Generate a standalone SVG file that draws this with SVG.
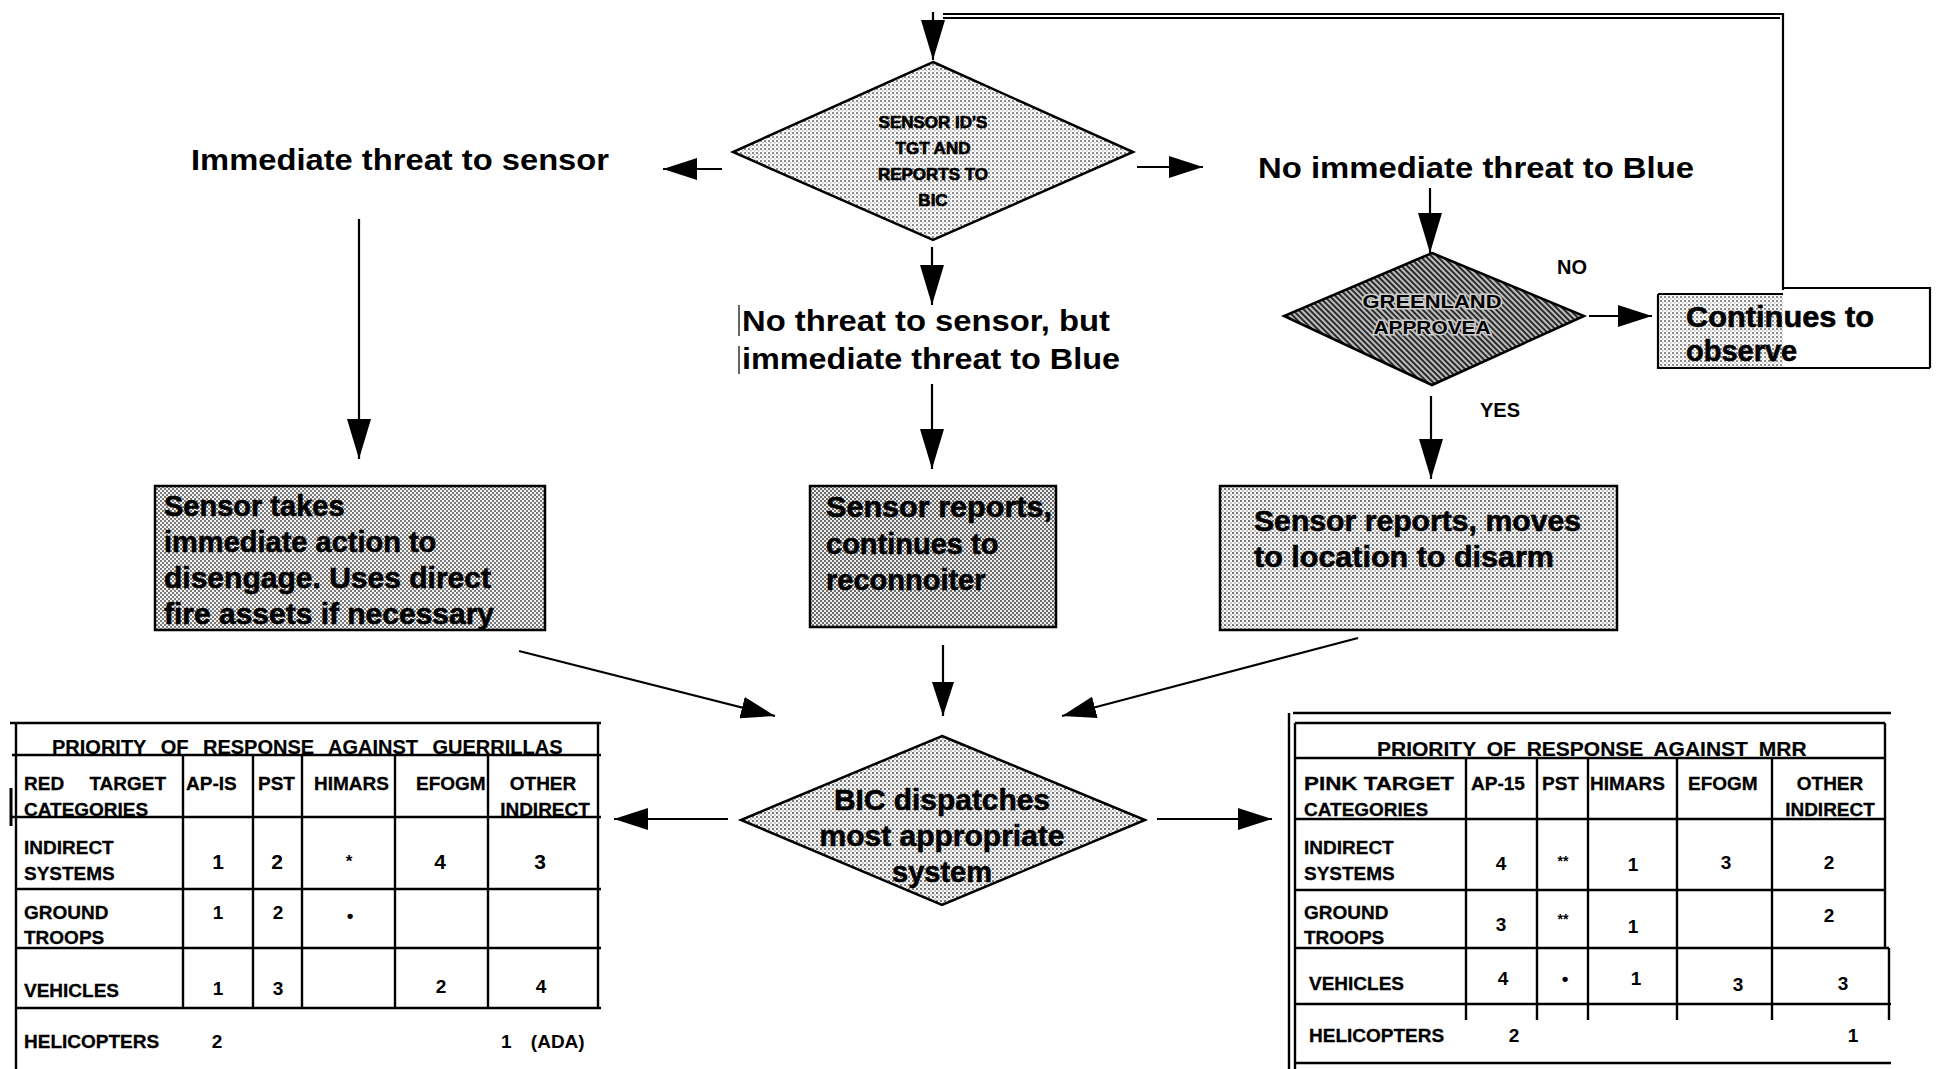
<svg xmlns="http://www.w3.org/2000/svg" width="1936" height="1069" viewBox="0 0 1936 1069">
<defs>
<style>
.t{font-family:"Liberation Sans",Arial,sans-serif;font-weight:bold;fill:#000}
.lbl{font-size:30px}
.box{font-size:29px;stroke:#000;stroke-width:0.6}
.sm{font-size:17px;stroke:#000;stroke-width:0.7}
.tb{font-size:19px;stroke:#000;stroke-width:0.3}
.ttl{stroke:#000;stroke-width:0.2}
.num{font-size:19px}
.conn{stroke:#000;stroke-width:2.2;fill:none}
.grid{stroke:#000;stroke-width:2.4;fill:none}
.shape{stroke:#000;stroke-width:2.5}
</style>
<pattern id="chk" width="4" height="4" patternUnits="userSpaceOnUse"><rect width="4" height="4" fill="#f4f4f4"/><rect width="2" height="2" fill="#7a7a7a"/><rect x="2" y="2" width="2" height="2" fill="#7a7a7a"/></pattern>
<pattern id="chk2" width="4" height="4" patternUnits="userSpaceOnUse"><rect width="4" height="4" fill="#eee"/><rect width="2" height="2" fill="#6a6a6a"/><rect x="2" y="2" width="2" height="2" fill="#6a6a6a"/></pattern>
<pattern id="dots" width="4" height="4" patternUnits="userSpaceOnUse"><rect width="4" height="4" fill="#fafafa"/><rect width="2" height="2" fill="#777"/><rect x="2" y="2" width="2" height="2" fill="#c8c8c8"/></pattern>
<pattern id="lite" width="4" height="4" patternUnits="userSpaceOnUse"><rect width="4" height="4" fill="#fff"/><rect width="2" height="2" fill="#8a8a8a"/><rect x="2" y="2" width="1.5" height="1.5" fill="#bbb"/></pattern>
<pattern id="hatch" width="4" height="4" patternUnits="userSpaceOnUse" patternTransform="rotate(45)"><rect width="4" height="4" fill="#bdbdbd"/><rect width="4" height="2" fill="#2a2a2a"/></pattern>
<marker id="ah" viewBox="0 0 34 22" refX="34" refY="11" markerWidth="34" markerHeight="22" markerUnits="userSpaceOnUse" orient="auto"><path d="M0,0 L34,11 L0,22 z" fill="#000"/></marker>
<marker id="ahv" viewBox="0 0 40 24" refX="40" refY="12" markerWidth="40" markerHeight="24" markerUnits="userSpaceOnUse" orient="auto"><path d="M0,0 L40,12 L0,24 z" fill="#000"/></marker>
</defs>
<rect width="1936" height="1069" fill="#fff"/>

<g id="connectors">
<path class="conn" d="M1783,290 V14 H943" stroke-width="3"/>
<path class="conn" d="M943,18 H1780" stroke-width="1"/>
<path class="conn" d="M933,12 V60" marker-end="url(#ahv)"/>
<path class="conn" d="M722,169 H663" marker-end="url(#ah)"/>
<path class="conn" d="M1137,167 H1203" marker-end="url(#ah)"/>
<path class="conn" d="M932,247 V305" marker-end="url(#ahv)"/>
<path class="conn" d="M359,219 V459" marker-end="url(#ahv)"/>
<path class="conn" d="M932,384 V469" marker-end="url(#ahv)"/>
<path class="conn" d="M1430,188 V253" marker-end="url(#ahv)"/>
<path class="conn" d="M1589,316 H1652" marker-end="url(#ah)"/>
<path class="conn" d="M1431,396 V479" marker-end="url(#ahv)"/>
<path class="conn" d="M519,651 L775,716" marker-end="url(#ah)"/>
<path class="conn" d="M943,645 V716" marker-end="url(#ah)"/>
<path class="conn" d="M1358,638 L1062,716" marker-end="url(#ah)"/>
<path class="conn" d="M728,819 H614" marker-end="url(#ah)"/>
<path class="conn" d="M1157,819 H1272" marker-end="url(#ah)"/>
</g>

<g id="sensor-ids-tgt">
<polygon class="shape" points="933,62 1133,152 933,240 733,152" fill="url(#lite)"/>
<text class="t sm" x="933" y="128" text-anchor="middle">SENSOR ID'S</text>
<text class="t sm" x="933" y="154" text-anchor="middle">TGT AND</text>
<text class="t sm" x="933" y="180" text-anchor="middle">REPORTS TO</text>
<text class="t sm" x="933" y="206" text-anchor="middle">BIC</text>
</g>

<g id="label-immediate-threat-sensor">
<text class="t lbl" x="400" y="170" text-anchor="middle" textLength="418" lengthAdjust="spacingAndGlyphs">Immediate threat to sensor</text>
</g>

<g id="label-no-immediate-threat-blue">
<text class="t lbl" x="1476" y="178" text-anchor="middle" textLength="436" lengthAdjust="spacingAndGlyphs">No immediate threat to Blue</text>
</g>

<g id="label-no-threat-sensor">
<line x1="739" y1="305" x2="739" y2="336" stroke="#000" stroke-width="1.2"/>
<line x1="739" y1="346" x2="739" y2="374" stroke="#000" stroke-width="1.2"/>
<text class="t lbl" x="742" y="331" textLength="368" lengthAdjust="spacingAndGlyphs">No threat to sensor, but</text>
<text class="t lbl" x="742" y="369" textLength="378" lengthAdjust="spacingAndGlyphs">immediate threat to Blue</text>
</g>

<g id="greenland-approve">
<polygon class="shape" points="1432,253 1584,316 1432,385 1284,316" fill="url(#hatch)"/>
<text class="t" font-size="18" x="1432" y="308" text-anchor="middle" stroke="#ccc" stroke-width="3" paint-order="stroke" textLength="139" lengthAdjust="spacingAndGlyphs">GREENLAND</text>
<text class="t" font-size="18" x="1432" y="334" text-anchor="middle" stroke="#ccc" stroke-width="3" paint-order="stroke" textLength="117" lengthAdjust="spacingAndGlyphs">APPROVEA</text>
</g>

<g id="label-no"><text class="t" font-size="20" x="1572" y="274" text-anchor="middle">NO</text></g>
<g id="label-yes"><text class="t" font-size="20" x="1500" y="417" text-anchor="middle">YES</text></g>

<g id="continues-to-observe">
<rect x="1658" y="294" width="125" height="74" fill="url(#lite)"/>
<path d="M1658,294 H1783 M1783,288 H1930 V368 M1658,294 V368 H1930" stroke="#000" stroke-width="2.2" fill="none"/>
<text class="t box" x="1686" y="327" textLength="188" lengthAdjust="spacingAndGlyphs">Continues to</text>
<text class="t box" x="1686" y="361">observe</text>
</g>

<g id="sensor-disengage">
<rect class="shape" x="155" y="486" width="390" height="144" fill="url(#chk)"/>
<text class="t box" x="164" y="516">Sensor takes</text>
<text class="t box" x="164" y="552">immediate action to</text>
<text class="t box" x="164" y="588" textLength="327" lengthAdjust="spacingAndGlyphs">disengage. Uses direct</text>
<text class="t box" x="164" y="624" textLength="330" lengthAdjust="spacingAndGlyphs">fire assets if necessary</text>
</g>

<g id="sensor-reconnoiter">
<rect class="shape" x="810" y="486" width="246" height="141" fill="url(#chk2)"/>
<text class="t box" x="826" y="517" textLength="226" lengthAdjust="spacingAndGlyphs">Sensor reports,</text>
<text class="t box" x="826" y="554">continues to</text>
<text class="t box" x="826" y="590">reconnoiter</text>
</g>

<g id="sensor-disarm">
<rect class="shape" x="1220" y="486" width="397" height="144" fill="url(#dots)"/>
<text class="t box" x="1254" y="531" textLength="327" lengthAdjust="spacingAndGlyphs">Sensor reports, moves</text>
<text class="t box" x="1254" y="567" textLength="300" lengthAdjust="spacingAndGlyphs">to location to disarm</text>
</g>

<g id="bic-dispatches">
<polygon class="shape" points="942,736 1145,820 942,905 741,820" fill="url(#dots)"/>
<text class="t box" x="942" y="810" text-anchor="middle" textLength="216" lengthAdjust="spacingAndGlyphs">BIC dispatches</text>
<text class="t box" x="942" y="846" text-anchor="middle" textLength="245" lengthAdjust="spacingAndGlyphs">most appropriate</text>
<text class="t box" x="942" y="882" text-anchor="middle">system</text>
</g>

<g id="table-guerrillas">
<path class="grid" d="M10,723 H601 M16,723 V1069 M598,723 V1008 M12,755 H601 M12,817 H601 M16,889 H601 M16,948 H601 M16,1008 H601 M183,755 V1008 M253,755 V1008 M302,755 V1008 M395,755 V1008 M488,755 V1008"/>
<line x1="11" y1="788" x2="11" y2="826" stroke="#000" stroke-width="3"/>
<text class="t ttl" x="52" y="754" style="font-size:20px;word-spacing:9px">PRIORITY OF RESPONSE AGAINST GUERRILLAS</text>
<text class="t tb" x="24" y="790" word-spacing="20">RED TARGET</text>
<text class="t tb" x="24" y="816">CATEGORIES</text>
<text class="t tb" x="186" y="790">AP-IS</text>
<text class="t tb" x="258" y="790">PST</text>
<text class="t tb" x="314" y="790">HIMARS</text>
<text class="t tb" x="416" y="790">EFOGM</text>
<text class="t tb" x="543" y="790" text-anchor="middle">OTHER</text>
<text class="t tb" x="545" y="816" text-anchor="middle">INDIRECT</text>
<text class="t tb" x="24" y="854">INDIRECT</text>
<text class="t tb" x="24" y="880">SYSTEMS</text>
<text class="t" font-size="21" x="218" y="869" text-anchor="middle">1</text>
<text class="t" font-size="21" x="277" y="869" text-anchor="middle">2</text>
<text class="t" font-size="17" x="349" y="867" text-anchor="middle">*</text>
<text class="t" font-size="21" x="440" y="869" text-anchor="middle">4</text>
<text class="t" font-size="21" x="540" y="869" text-anchor="middle">3</text>
<text class="t tb" x="24" y="919">GROUND</text>
<text class="t tb" x="24" y="944">TROOPS</text>
<text class="t num" font-weight="normal" x="218" y="919" text-anchor="middle">1</text>
<text class="t num" x="278" y="919" text-anchor="middle">2</text>
<text class="t num" x="350" y="922" text-anchor="middle">•</text>
<text class="t tb" x="24" y="997">VEHICLES</text>
<text class="t num" font-weight="normal" x="218" y="995" text-anchor="middle">1</text>
<text class="t num" x="278" y="995" text-anchor="middle">3</text>
<text class="t num" x="441" y="993" text-anchor="middle">2</text>
<text class="t num" x="541" y="993" text-anchor="middle">4</text>
<text class="t tb" x="24" y="1048">HELICOPTERS</text>
<text class="t num" x="217" y="1048" text-anchor="middle">2</text>
<text class="t num" x="501" y="1048" word-spacing="14">1 (ADA)</text>
</g>

<g id="table-mrr">
<path class="grid" d="M1293,713 H1891 M1289,713 V1069 M1295,723 V1069 M1295,723 H1885 M1885,723 V948 M1889,948 V1020 M1295,758 H1885 M1295,819 H1885 M1295,890 H1885 M1295,948 H1889 M1295,1004 H1891 M1295,1063 H1891 M1466,758 V1020 M1537,758 V1020 M1588,758 V1020 M1677,758 V1020 M1772,758 V1020"/>
<text class="t ttl" x="1377" y="756" style="font-size:21px;word-spacing:5px">PRIORITY OF RESPONSE AGAINST MRR</text>
<text class="t tb" x="1304" y="790" textLength="150" lengthAdjust="spacingAndGlyphs">PINK TARGET</text>
<text class="t tb" x="1304" y="816">CATEGORIES</text>
<text class="t tb" x="1471" y="790">AP-15</text>
<text class="t tb" x="1542" y="790">PST</text>
<text class="t tb" x="1590" y="790">HIMARS</text>
<text class="t tb" x="1688" y="790">EFOGM</text>
<text class="t tb" x="1830" y="790" text-anchor="middle">OTHER</text>
<text class="t tb" x="1830" y="816" text-anchor="middle">INDIRECT</text>
<text class="t tb" x="1304" y="854">INDIRECT</text>
<text class="t tb" x="1304" y="880">SYSTEMS</text>
<text class="t num" x="1501" y="870" text-anchor="middle">4</text>
<text class="t" font-size="14" x="1563" y="866" text-anchor="middle">**</text>
<text class="t num" x="1633" y="871" text-anchor="middle">1</text>
<text class="t num" x="1726" y="869" text-anchor="middle">3</text>
<text class="t num" x="1829" y="869" text-anchor="middle">2</text>
<text class="t tb" x="1304" y="919">GROUND</text>
<text class="t tb" x="1304" y="944">TROOPS</text>
<text class="t num" x="1501" y="931" text-anchor="middle">3</text>
<text class="t" font-size="14" x="1563" y="924" text-anchor="middle">**</text>
<text class="t num" x="1633" y="933" text-anchor="middle">1</text>
<text class="t num" x="1829" y="922" text-anchor="middle">2</text>
<text class="t tb" x="1309" y="990">VEHICLES</text>
<text class="t num" font-weight="normal" x="1503" y="985" text-anchor="middle">4</text>
<text class="t num" x="1565" y="985" text-anchor="middle">•</text>
<text class="t num" font-weight="normal" x="1636" y="985" text-anchor="middle">1</text>
<text class="t num" font-weight="normal" x="1738" y="991" text-anchor="middle">3</text>
<text class="t num" font-weight="normal" x="1843" y="990" text-anchor="middle">3</text>
<text class="t tb" x="1309" y="1042">HELICOPTERS</text>
<text class="t num" x="1514" y="1042" text-anchor="middle">2</text>
<text class="t num" font-weight="normal" x="1853" y="1042" text-anchor="middle">1</text>
</g>
</svg>
